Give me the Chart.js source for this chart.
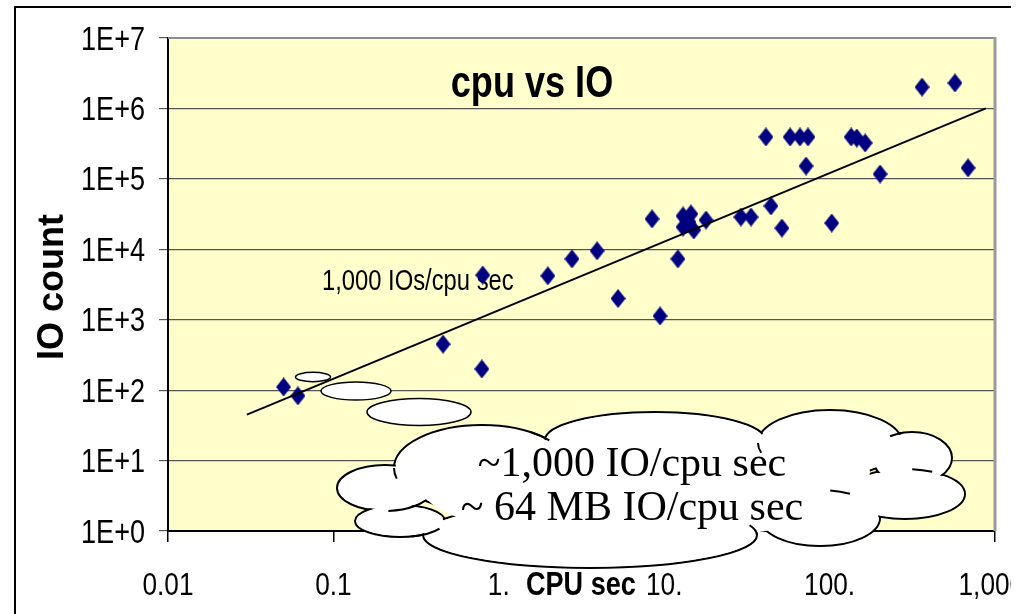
<!DOCTYPE html>
<html>
<head>
<title>cpu vs IO</title>
<script src="https://cdn.jsdelivr.net/npm/chart.js"></script>
<style>
    body { margin: 0; background: #fff; }
    #wrap { position: relative; width: 1011px; height: 614px; overflow: hidden; }
    canvas { display: block; }
</style>
</head>
<body>
<div id="wrap"><canvas id="myChart" width="1025" height="614"></canvas></div>
<script>
// measured points: CPU seconds vs IO count
const cpuSec = [0.050, 0.061, 0.46, 0.79, 0.80, 1.98, 2.77, 3.93, 5.26, 9.44, 8.44, 12.1,
    13.0, 14.5, 13.0, 15.1, 17.9, 14.1, 29.1, 33.5, 44.2, 51.5, 103,
    41.2, 57.7, 66.2, 74.0, 72.0, 135, 146, 164, 202, 362, 573, 687];
const ioCount = [111, 83, 450, 200, 4300, 4200, 7300, 9500, 2000, 1130, 27000, 7300,
    29700, 31700, 20700, 18800, 26000, 24400, 28700, 28700, 41200, 20000, 23600,
    393000, 393000, 393000, 393000, 152000, 393000, 380000, 323000, 117000, 2010000, 2300000, 143000];

// trend line end points
const trendCpu = [0.03, 880];
const trendIo = [45, 1000000];

const xTickValues = [0.01, 0.1, 1, 10, 100, 1000];
const xTickLabels = ['0.01', '0.1', '1.', '10.', '100.', '1,000.'];
const yTickValues = [1, 10, 100, 1e3, 1e4, 1e5, 1e6, 1e7];
const yTickLabels = ['1E+0', '1E+1', '1E+2', '1E+3', '1E+4', '1E+5', '1E+6', '1E+7'];

// no Arial Narrow here, so squeeze Liberation Sans horizontally
const SANS = "'Liberation Sans', Arial, sans-serif";
const NARROW = 0.82;

// thought bubble ellipses and cloud lobes (decoration, pixels): cx, cy, rx, ry
const bubbles = [[313, 377, 17.5, 4.7], [356, 391, 35, 9], [419, 412, 52, 13.5]];
const cloudLobes = [
    [482, 468, 88, 43], [385, 488, 48, 23], [400, 521, 45, 16], [590, 535, 167, 33],
    [820, 518, 60, 28], [905, 494, 60, 25], [912, 458, 40, 26], [830, 443, 72, 33],
    [655, 440, 110, 28]
];
const cloudFill = [[640, 492, 215, 48], [770, 472, 100, 36]];
// little inner curls: lobe index, start angle, end angle
const cloudHooks = [[0, Math.PI - 0.25, Math.PI], [0, -1.0, -0.7], [1, 0.9, 1.5], [2, 0.5, 1.3],
    [3, -0.3, 0], [4, -1.4, -1.05], [5, -1.45, -1.1], [6, -2.15, -1.8], [7, Math.PI - 0.3, Math.PI]];

// diamond marker, a bit taller than wide
const diamond = document.createElement('canvas');
diamond.width = 15;
diamond.height = 19;
const dctx = diamond.getContext('2d');
dctx.fillStyle = '#000080';
dctx.beginPath();
dctx.moveTo(7.5, 0);
dctx.lineTo(15, 9.5);
dctx.lineTo(7.5, 19);
dctx.lineTo(0, 9.5);
dctx.closePath();
dctx.fill();

function narrowText(ctx, text, x, y, font, align) {
    ctx.save();
    ctx.font = font;
    const w = ctx.measureText(text).width * NARROW;
    let left = x;
    if (align === 'center') left = x - w / 2;
    else if (align === 'right') left = x - w;
    ctx.translate(left, y);
    ctx.scale(NARROW, 1);
    ctx.textAlign = 'left';
    ctx.textBaseline = 'alphabetic';
    ctx.fillText(text, 0, 0);
    ctx.restore();
}

function drawCloud(ctx) {
    ctx.save();
    ctx.lineWidth = 1.5;
    ctx.strokeStyle = '#000';
    ctx.fillStyle = '#fff';
    bubbles.forEach(b => {
        ctx.beginPath();
        ctx.ellipse(b[0], b[1], b[2], b[3], 0, 0, Math.PI * 2);
        ctx.fill();
        ctx.stroke();
    });

    ctx.lineWidth = 2;
    cloudLobes.forEach(l => {
        ctx.beginPath();
        ctx.ellipse(l[0], l[1], l[2], l[3], 0, 0, Math.PI * 2);
        ctx.fill();
        ctx.stroke();
    });
    cloudLobes.forEach(l => {
        ctx.beginPath();
        ctx.ellipse(l[0], l[1], l[2] - 1.5, l[3] - 1.5, 0, 0, Math.PI * 2);
        ctx.fill();
    });
    cloudFill.forEach(l => {
        ctx.beginPath();
        ctx.ellipse(l[0], l[1], l[2], l[3], 0, 0, Math.PI * 2);
        ctx.fill();
    });
    cloudHooks.forEach(h => {
        const l = cloudLobes[h[0]];
        ctx.beginPath();
        ctx.ellipse(l[0], l[1], l[2], l[3], 0, h[1], h[2]);
        ctx.stroke();
    });

    ctx.fillStyle = '#000';
    ctx.textAlign = 'center';
    ctx.textBaseline = 'alphabetic';
    ctx.font = "42px 'Liberation Serif', 'Times New Roman', serif";
    ctx.fillText('~1,000 IO/cpu sec', 632, 476);
    ctx.fillText('~ 64 MB IO/cpu sec', 632, 520);
    ctx.restore();
}

const decor = {
    id: 'decor',
    beforeDraw(chart) {
        const { ctx, chartArea: a } = chart;
        ctx.save();
        ctx.fillStyle = '#FFFFCC';
        ctx.fillRect(a.left, a.top, a.right - a.left, a.bottom - a.top);
        ctx.restore();
    },
    beforeDatasetsDraw(chart) {
        const { ctx, chartArea: a } = chart;
        ctx.save();
        ctx.strokeStyle = '#8c8c8c';
        ctx.lineWidth = 2;
        ctx.beginPath();
        ctx.moveTo(a.left, a.top);
        ctx.lineTo(a.right, a.top);
        ctx.stroke();
        ctx.lineWidth = 3;
        ctx.strokeStyle = '#9a9a9a';
        ctx.beginPath();
        ctx.moveTo(a.right, a.top - 1);
        ctx.lineTo(a.right, a.bottom);
        ctx.stroke();
        ctx.fillStyle = '#000';
        narrowText(ctx, 'cpu vs IO', 532, 97, 'bold 44px ' + SANS, 'center');
        narrowText(ctx, '1,000 IOs/cpu sec', 322, 290, '29px ' + SANS, 'left');
        ctx.restore();
    },
    afterDraw(chart) {
        const { ctx, scales } = chart;
        ctx.save();
        ctx.fillStyle = '#000';
        // tick labels
        yTickValues.forEach((v, i) => {
            narrowText(ctx, yTickLabels[i], 145, scales.y.getPixelForValue(v) + 11.5, '33px ' + SANS, 'right');
        });
        xTickValues.forEach((v, i) => {
            narrowText(ctx, xTickLabels[i], scales.x.getPixelForValue(v), 595, '32px ' + SANS, 'center');
        });
        narrowText(ctx, 'CPU sec', 526, 595, 'bold 33px ' + SANS, 'left');

        // y axis title
        ctx.save();
        ctx.translate(63, 287);
        ctx.rotate(-Math.PI / 2);
        ctx.textAlign = 'center';
        ctx.textBaseline = 'alphabetic';
        ctx.font = 'bold 36px ' + SANS;
        ctx.fillText('IO count', 0, 0);
        ctx.restore();

        drawCloud(ctx);

        // outer frame
        ctx.strokeStyle = '#000';
        ctx.lineWidth = 2;
        ctx.beginPath();
        ctx.moveTo(15, 614);
        ctx.lineTo(15, 7);
        ctx.lineTo(1011, 7);
        ctx.stroke();
        ctx.restore();
    }
};

new Chart(document.getElementById('myChart'), {
    type: 'scatter',
    data: {
        datasets: [{
            label: 'trend',
            data: trendCpu.map((x, i) => ({ x: x, y: trendIo[i] })),
            showLine: true,
            borderColor: '#000',
            borderWidth: 2,
            pointRadius: 0,
            order: 0
        }, {
            label: 'cpu vs IO',
            data: cpuSec.map((x, i) => ({ x: x, y: ioCount[i] })),
            pointStyle: diamond,
            pointRadius: 8,
            order: 1
        }]
    },
    options: {
        responsive: false,
        animation: false,
        layout: { padding: { left: 15, top: 38, right: 30, bottom: 0 } },
        plugins: { legend: { display: false }, tooltip: { enabled: false } },
        scales: {
            x: {
                type: 'logarithmic',
                min: 0.01,
                max: 1000,
                afterBuildTicks: s => { s.ticks = xTickValues.map(v => ({ value: v })); },
                afterFit: s => { s.height = 83; s.paddingLeft = 0; s.paddingRight = 0; },
                grid: { drawOnChartArea: false, drawTicks: true, tickLength: 11, color: '#000', lineWidth: 1.5 },
                border: { color: '#000', width: 2 },
                ticks: { display: false, autoSkip: false }
            },
            y: {
                type: 'logarithmic',
                min: 1,
                max: 1e7,
                afterBuildTicks: s => { s.ticks = yTickValues.map(v => ({ value: v })); },
                afterFit: s => { s.width = 153; s.paddingTop = 0; s.paddingBottom = 0; },
                grid: { color: '#555', lineWidth: 1.2, tickLength: 9 },
                border: { color: '#000', width: 2 },
                ticks: { display: false, autoSkip: false }
            }
        }
    },
    plugins: [decor]
});
</script>
</body>
</html>
